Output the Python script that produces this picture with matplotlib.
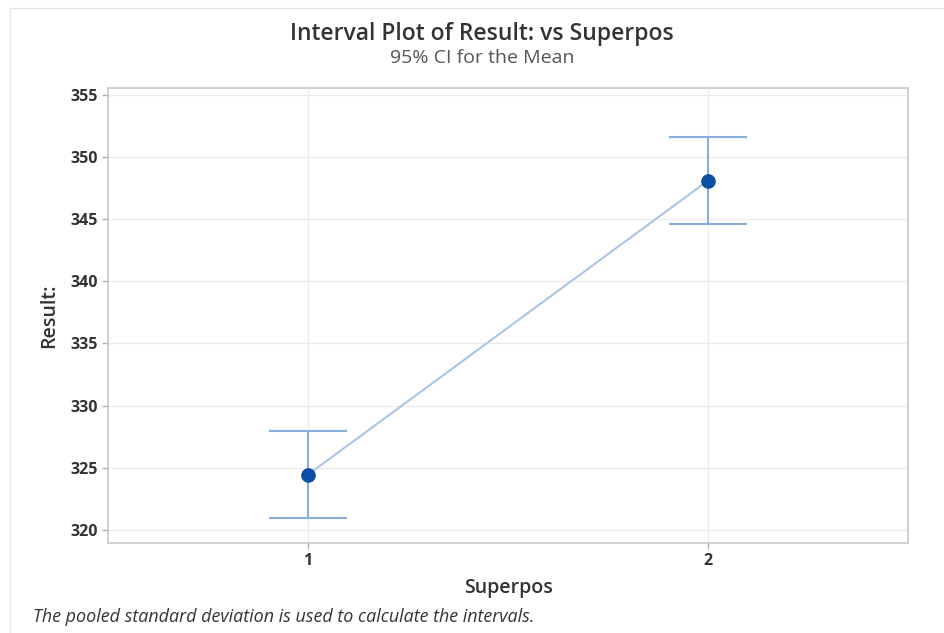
import matplotlib.pyplot as plt
from matplotlib.patches import Rectangle

superpos = [1, 2]
means = [324.45, 348.1]
ci_low = [320.95, 344.6]
ci_high = [327.95, 351.6]
yticks = [320, 325, 330, 335, 340, 345, 350, 355]

plt.rcParams['font.family'] = ['Open Sans', 'DejaVu Sans']

fig = plt.figure(figsize=(9.45, 6.33), dpi=100)
ax = fig.add_axes([0.1143, 0.1422, 0.8466, 0.7188])

# outer frame of the graph window
fig.patches.append(Rectangle((10 / 945, -0.01), 1.0, 1 - 8 / 633 + 0.01,
                             transform=fig.transFigure, fill=False,
                             edgecolor='#e6e6e6', linewidth=1))

yerr = [[m - lo for m, lo in zip(means, ci_low)],
        [hi - m for m, hi in zip(means, ci_high)]]

ax.plot(superpos, means, color='#a9c5e6', linewidth=1.5, zorder=2)
ax.errorbar(superpos, means, yerr=yerr, fmt='none', ecolor='#87aedc',
            elinewidth=1.5, capsize=28, capthick=1.5, zorder=3)
ax.plot(superpos, means, 'o', color='#0a4fa3', markersize=9.5, zorder=4)

ax.set_xlim(0.5, 2.5)
ax.set_ylim(318.95, 355.55)
ax.set_xticks(superpos)
ax.set_yticks(yticks)
ax.grid(True, color='#ececec', linewidth=1)
ax.set_axisbelow(True)
for s in ax.spines.values():
    s.set_color('#c8c8c8')
    s.set_linewidth(1.2)
ax.tick_params(axis='both', colors='#b0b0b0', length=4, width=1,
               labelcolor='#333333', labelsize=11.5)
for lbl in ax.get_xticklabels() + ax.get_yticklabels():
    lbl.set_fontweight('bold')

ax.set_xlabel('Superpos', fontsize=14, color='#333333', fontweight='semibold', labelpad=6)
ax.set_ylabel('Result:', fontsize=14, color='#333333', fontweight='semibold', labelpad=8)

fig.text(482 / 945, 1 - 34 / 633, 'Interval Plot of Result: vs Superpos', ha='center',
         va='center', fontsize=16.5, color='#333333', fontweight='semibold')
fig.text(482 / 945, 1 - 58 / 633, '95% CI for the Mean', ha='center', va='center',
         fontsize=14, color='#555555')
fig.text(33 / 945, 1 - 617 / 633, 'The pooled standard deviation is used to calculate the intervals.',
         ha='left', va='center', fontsize=12.9, style='italic', color='#333333')

fig.savefig('out.png', dpi=100, facecolor='white')
